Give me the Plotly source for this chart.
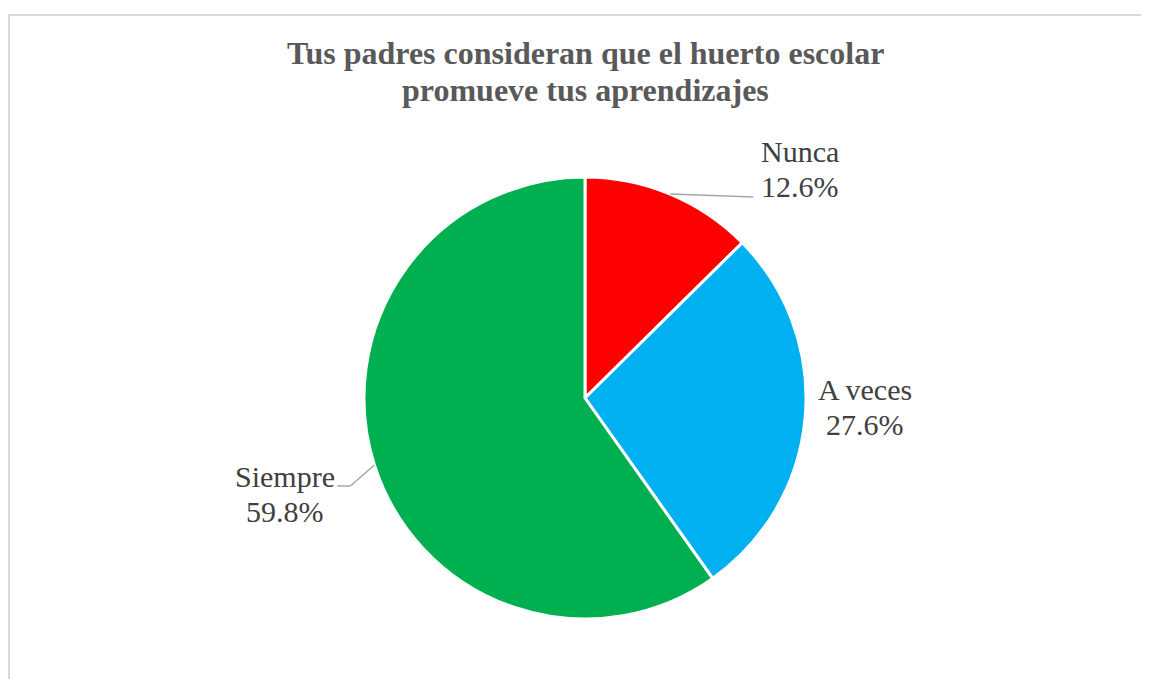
import math
import plotly.graph_objects as go

# ---- data ----
categories = ["Nunca", "A veces", "Siempre"]
percentages = [12.6, 27.6, 59.8]
slice_colors = ["#FF0000", "#00B0F0", "#00B050"]
title_lines = ["Tus padres consideran que el huerto escolar", "promueve tus aprendizajes"]

# ---- geometry (page pixels; the page body adds an 8px offset) ----
OFF = 8
W, H = 1149 - OFF, 679 - OFF
CX, CY, R = 585, 398, 221
M_T = (CY - R) - OFF
M_B = H - ((CY + R) - OFF)
PLOT_H = 2 * R


def px_x(px):
    return (px - OFF) / W


def px_y(py):
    return (H - M_B - (py - OFF)) / PLOT_H


fig = go.Figure(go.Pie(
    labels=categories,
    values=percentages,
    sort=False,
    direction="clockwise",
    rotation=0,
    marker=dict(colors=slice_colors, line=dict(color="white", width=3)),
    textinfo="none",
    hoverinfo="label+percent",
    domain=dict(x=[px_x(CX - R), px_x(CX + R)], y=[0, 1]),
    showlegend=False,
))

# label block offsets from the slice's edge point: (center x, first baseline y)
label_offsets = [(130, -32), (60, -18), (-89, 22)]
# leader line polylines as offsets from the edge point
leader_paths = [[(0, 0), (83, 3)], [], [(0, 0), (-24, 21), (-37, 21)]]

LABEL_SIZE = 30
LABEL_LH = 35
TITLE_SIZE = 32
TITLE_LH = 37

annotations = []
shapes = []


def text_line(txt, x, baseline, size, color, bold=False):
    return dict(
        x=px_x(x), y=px_y(baseline - 0.34 * size), xref="paper", yref="paper",
        text=f"<b>{txt}</b>" if bold else txt, showarrow=False,
        xanchor="center", yanchor="middle",
        font=dict(family="Liberation Serif", size=size, color=color),
    )


total = sum(percentages)
cum = 0.0
for cat, val, (ox, oy), path in zip(categories, percentages, label_offsets, leader_paths):
    mid = (cum + val / 2) / total * 2 * math.pi
    cum += val
    ex = CX + R * math.sin(mid)
    ey = CY - R * math.cos(mid)
    lx, ly = ex + ox, ey + oy
    annotations.append(text_line(cat, lx, ly, LABEL_SIZE, "#404040"))
    annotations.append(text_line(f"{val / total * 100:.1f}%", lx, ly + LABEL_LH, LABEL_SIZE, "#404040"))
    for (ax0, ay0), (ax1, ay1) in zip(path[:-1], path[1:]):
        shapes.append(dict(type="line", xref="paper", yref="paper",
                           x0=px_x(ex + ax0), y0=px_y(ey + ay0),
                           x1=px_x(ex + ax1), y1=px_y(ey + ay1),
                           line=dict(color="#A6A6A6", width=1.5)))

for i, line in enumerate(title_lines):
    annotations.append(text_line(line, 585, 64 + i * TITLE_LH, TITLE_SIZE, "#595959", bold=True))

shapes.append(dict(type="rect", xref="paper", yref="paper",
                   x0=px_x(9), x1=px_x(1149 + 30), y0=px_y(679 + 30), y1=px_y(15),
                   line=dict(color="#D9D9D9", width=2), fillcolor="rgba(0,0,0,0)",
                   layer="below"))

fig.update_layout(
    width=W, height=H,
    margin=dict(l=0, r=0, t=M_T, b=M_B),
    paper_bgcolor="white", plot_bgcolor="white",
    annotations=annotations,
    shapes=shapes,
)

fig.write_html("out.html")
